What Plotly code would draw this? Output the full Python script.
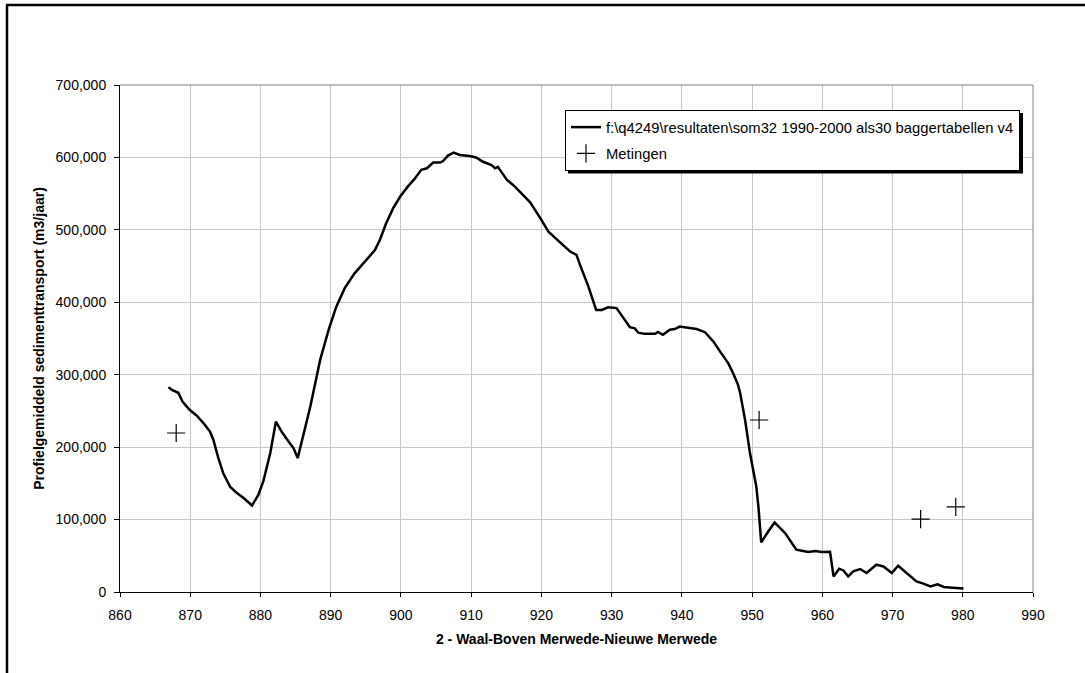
import plotly.graph_objects as go

# ---- data ----
km_model = [866.9, 867.4, 868.3, 868.9, 869.9, 870.9, 871.9, 872.8, 873.3, 874.0,
            874.7, 875.7, 876.6, 877.6, 878.8, 879.7, 880.4, 881.4, 882.2, 883.0,
            884.0, 884.7, 885.3, 886.1, 887.1, 888.5, 889.7, 890.8, 892.0, 893.4,
            894.9, 896.3, 897.0, 897.9, 898.9, 899.9, 901.0, 902.0, 902.9, 903.7,
            904.6, 905.6, 906.0, 906.7, 907.5, 908.4, 909.8, 910.7, 911.7, 912.9,
            913.4, 913.8, 914.3, 915.1, 916.2, 917.2, 918.4, 920.0, 921.0, 922.0,
            923.1, 924.1, 925.0, 925.5, 926.7, 927.8, 928.6, 929.5, 930.7, 931.9,
            932.6, 933.3, 933.8, 934.7, 936.2, 936.6, 937.3, 938.3, 939.0, 939.7,
            940.7, 942.1, 943.3, 944.5, 945.6, 946.6, 947.3, 948.0, 948.3, 949.0,
            949.7, 950.6, 950.9, 951.3, 952.3, 953.2, 954.7, 956.3, 957.1, 958.0,
            959.0, 959.9, 961.1, 961.6, 962.4, 963.0, 963.7, 964.4, 965.4, 966.3,
            967.7, 968.7, 969.9, 970.8, 972.0, 973.4, 974.4, 975.4, 976.4, 977.3,
            978.6, 980.1]
transport_model = [282900, 279000, 275000, 263000, 251500, 243700, 233000, 221600, 210000, 185000,
                   164000, 145000, 137000, 129700, 119500, 134000, 152600, 191800, 235400, 221600,
                   207800, 198700, 184900, 214700, 256000, 320500, 362000, 394000, 419500, 440000,
                   456000, 472000, 486000, 509000, 530000, 546000, 560000, 571000, 583000, 585000,
                   593000, 593000, 595000, 602500, 606600, 603400, 602000, 600000, 594000, 589600,
                   585000, 587000, 580000, 569000, 560000, 550500, 538000, 513700, 497600, 488500,
                   479000, 470000, 465400, 451600, 421700, 389500, 389500, 393000, 392000, 375700,
                   365700, 364000, 358000, 356400, 356400, 359000, 355000, 362000, 363000, 366500,
                   365000, 363000, 358700, 345800, 329800, 316000, 302000, 286000, 274600, 237800,
                   191800, 145700, 118000, 68500, 83600, 96000, 81400, 58400, 57000, 55200,
                   56600, 55200, 55600, 21500, 32200, 29800, 21500, 28400, 31700, 26200,
                   37700, 35300, 26200, 36300, 26200, 14600, 11500, 7700, 10500, 6900,
                   5900, 5000]

km_meas = [868.0, 951.0, 974.0, 979.0]
transport_meas = [219500, 237500, 100500, 117500]

x_ticks = [860, 870, 880, 890, 900, 910, 920, 930, 940, 950, 960, 970, 980, 990]
y_ticks = [0, 100000, 200000, 300000, 400000, 500000, 600000, 700000]

label_model = "f:\\q4249\\resultaten\\som32 1990-2000 als30 baggertabellen v4"
label_meas = "Metingen"
x_title = "2 - Waal-Boven Merwede-Nieuwe Merwede"
y_title = "Profielgemiddeld sedimenttransport (m3/jaar)"

# ---- layout geometry (pixels) ----
W, H = 1085, 673
L, R, T, B = 120, 52, 85, 81
PW, PH = W - L - R, H - T - B


def px(xp):
    return (xp - L) / PW


def py(yp):
    return (H - B - yp) / PH


FONT = "Liberation Sans, Arial, sans-serif"

fig = go.Figure()
fig.add_trace(go.Scatter(
    x=km_model, y=transport_model, mode="lines", name=label_model,
    line=dict(color="black", width=2.5), legendgroup="a"))
fig.add_trace(go.Scatter(
    x=km_meas, y=transport_meas, mode="markers", name=label_meas,
    marker=dict(symbol="cross-thin-open", size=13, color="black",
                line=dict(color="black", width=1.2)), legendgroup="b"))

shapes = [
    # outer chart frame (left and top only visible)
    dict(type="line", xref="paper", yref="paper", x0=px(7), x1=px(7), y0=py(700), y1=py(5),
         line=dict(color="black", width=2.5)),
    dict(type="line", xref="paper", yref="paper", x0=px(6), x1=px(1100), y0=py(5), y1=py(5),
         line=dict(color="black", width=2.5)),
    # plot-area top/right border (gray)
    dict(type="line", xref="paper", yref="paper", x0=0, x1=1, y0=1, y1=1,
         line=dict(color="#808080", width=1)),
    dict(type="line", xref="paper", yref="paper", x0=1, x1=1, y0=0, y1=1,
         line=dict(color="#808080", width=1)),
    # legend shadow
    dict(type="rect", xref="paper", yref="paper", x0=px(568), x1=px(1023), y0=py(173.5), y1=py(113),
         fillcolor="black", line=dict(width=0), layer="above"),
]

fig.update_layout(
    width=W, height=H,
    margin=dict(l=L, r=R, t=T, b=B, pad=0),
    paper_bgcolor="white", plot_bgcolor="white",
    font=dict(family=FONT, size=14, color="black"),
    showlegend=True,
    legend=dict(x=px(565), y=py(110), xanchor="left", yanchor="top",
                bgcolor="white", bordercolor="black", borderwidth=1,
                font=dict(family=FONT, size=14.8, color="black"),
                tracegroupgap=4, itemwidth=30),
    shapes=shapes,
    xaxis=dict(range=[860, 990], tickvals=x_ticks, ticktext=[str(v) for v in x_ticks],
               showgrid=True, gridcolor="#c8c8c8", gridwidth=1,
               showline=True, linecolor="black", linewidth=1,
               ticks="outside", ticklen=4, tickcolor="black", ticklabelstandoff=6,
               tickfont=dict(family=FONT, size=14),
               zeroline=False,
               title=dict(text="<b>" + x_title + "</b>", font=dict(family=FONT, size=14), standoff=12)),
    yaxis=dict(range=[0, 700000], tickvals=y_ticks, tickformat=",d",
               showgrid=True, gridcolor="#c8c8c8", gridwidth=1,
               showline=True, linecolor="black", linewidth=1,
               ticks="outside", ticklen=5, tickcolor="black", ticklabelstandoff=5,
               tickfont=dict(family=FONT, size=14),
               zeroline=False,
               title=dict(text="<b>" + y_title + "</b>", font=dict(family=FONT, size=14), standoff=7)),
)

fig.write_html("out.html")
